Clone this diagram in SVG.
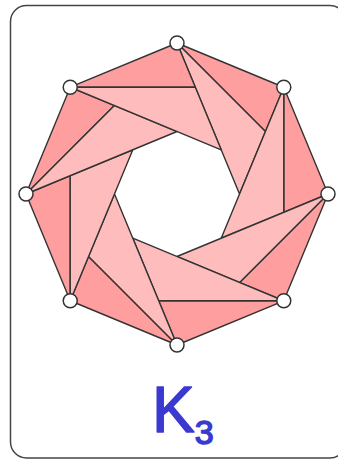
<svg xmlns="http://www.w3.org/2000/svg" width="338" height="461" viewBox="0 0 338 461">
<style>
.dk{fill:#ff9e9e;stroke:#333;stroke-width:1.4;stroke-linejoin:round}
.lt{fill:#ffbcbc;stroke:#333;stroke-width:1.4;stroke-linejoin:round}
.v{fill:#fff;stroke:#333;stroke-width:1.5}
.lbl{font-family:"Liberation Sans",Arial,sans-serif;fill:#3a3ad0;stroke:#3a3ad0;stroke-width:1.5;stroke-linejoin:round}
</style>
<defs>
<g id="blade">
<polygon class="dk" points="177,43 283.77,87.23 265.44,131.44"/>
<polygon class="lt" points="177,43 265.44,131.44 239.5,194"/>
</g>
</defs>
<rect x="10.5" y="5.5" width="335.5" height="452.5" rx="16" fill="#fff" stroke="#444" stroke-width="1.5"/>
<g id="connectors">
<use href="#blade"/>
<use href="#blade" transform="rotate(45 177 194)"/>
<use href="#blade" transform="rotate(90 177 194)"/>
<use href="#blade" transform="rotate(135 177 194)"/>
<use href="#blade" transform="rotate(180 177 194)"/>
<use href="#blade" transform="rotate(225 177 194)"/>
<use href="#blade" transform="rotate(270 177 194)"/>
<use href="#blade" transform="rotate(315 177 194)"/>
</g>
<g id="v0"><circle class="v" cx="177" cy="43" r="7"/></g>
<g id="v1"><circle class="v" cx="283.77" cy="87.23" r="7"/></g>
<g id="v2"><circle class="v" cx="328" cy="194" r="7"/></g>
<g id="v3"><circle class="v" cx="283.77" cy="300.77" r="7"/></g>
<g id="v4"><circle class="v" cx="177" cy="345" r="7"/></g>
<g id="v5"><circle class="v" cx="70.23" cy="300.77" r="7"/></g>
<g id="v6"><circle class="v" cx="26" cy="194" r="7"/></g>
<g id="v7"><circle class="v" cx="70.23" cy="87.23" r="7"/></g>
<g id="label">
<text class="lbl" x="152" y="432" font-size="64">K<tspan font-size="34" y="444">3</tspan></text>
</g>
</svg>
